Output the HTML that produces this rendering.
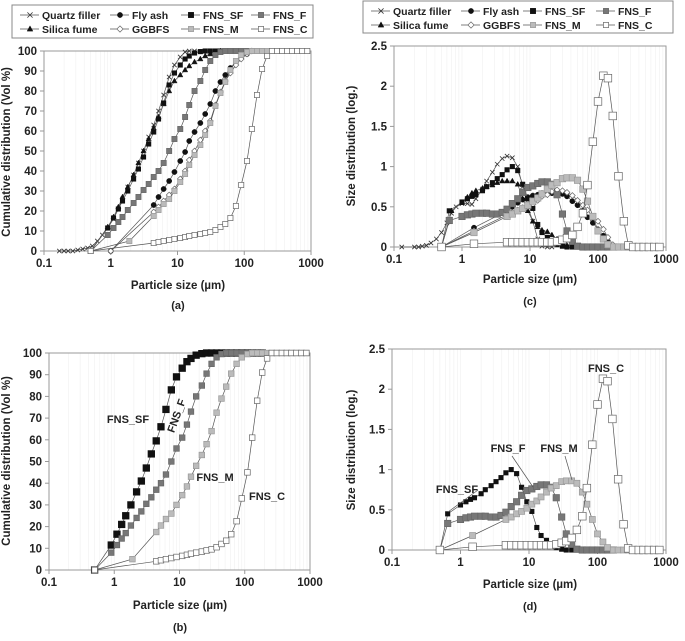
<!DOCTYPE html>
<html><head><meta charset="utf-8"><style>
html,body{margin:0;padding:0;background:#fff;}
svg text{font-family:"Liberation Sans",Arial,sans-serif;font-weight:bold;fill:#222;}
</style></head><body>
<svg id="fig" width="685" height="636" viewBox="0 0 685 636" xmlns="http://www.w3.org/2000/svg"></svg>
<script>
// ---------- DATA ----------
const qfCumX=[0.17,0.2,0.23,0.27,0.32,0.38,0.45,0.53,0.63,0.75,0.9,1.1,1.3,1.5,1.8,2.2,2.6,3.1,3.7,4.4,5.2,6.2,7.5,9,11,13,15,18];
const qfCum=[0,0,0,0,0.5,1,1.5,2.5,5,8,11.5,16,21,26,32,38,44,50,57,63,70,78,87,93,97,99.5,100,100];
const sfuCumX=[0.5,0.9,1.1,1.3,1.5,1.8,2.2,2.6,3.1,3.7,4.4,5.2,6.2,7.5,9,11,13,15,18,22,26,31,37,44];
const sfuCum=[0,12,17,22,27,32,38,44,50,56,61.5,67,73.5,80,85,88,90.5,92.5,94.5,96,97.5,98.5,99.5,100];
const faCumX=[1,4.4,5.2,6.2,7.5,9,11,13,15,18,22,26,31,37,44,52,62,75,90,110,130];
const faCum=[0,23,27,31,35,39.5,45,49.5,55,59.5,64,68.5,73.5,80,84.5,88,91.5,94.5,96.5,98.5,100];
const ggCumX=[1,4.4,5.2,6.2,7.5,9,11,13,15,18,22,26,31,37,44,52,62,75,90,110,130];
const ggCum=[0,19.5,22,25,28,31,36,40,45.5,50,55.5,60,65,73,79.5,85,89,93,96,98.5,100];
const fsfCumX=[0.5,0.9,1.1,1.3,1.5,1.8,2.2,2.6,3.1,3.7,4.4,5.2,6.2,7.5,9,11,13,15,18,22,26,31,37,44,52,62,75,90,110,130,155,185];
const fsfCum=[0,11.5,16.5,21,25,30,36,41,47,53.5,59.5,66,74,83,89,93,96,97.5,99,99.7,100,100,100,100,100,100,100,100,100,100,100,100];
const ffCumX=[0.5,0.9,1.1,1.3,1.5,1.8,2.2,2.6,3.1,3.7,4.4,5.2,6.2,7.5,9,11,13,15,18,22,26,31,37,44,52,62,75,90,110,130,155,185];
const ffCum=[0,8,11.5,14.5,17,20.5,24,27,30.5,33.5,37,40,44,50,56,61,67,73,80,85,90.5,95,98,99.5,100,100,100,100,100,100,100,100];
const fmCumX=[0.5,1.9,4.4,5.2,6.2,7.5,9,11,13,15,18,22,26,31,37,44,52,62,75,90,110,130,155,185,220,260,310,370,440,520,620,740,880];
const fmCum=[0,5,17.5,20.5,23.5,26,30,34.5,38.5,43,48,53,58,64,72.5,79,84.5,90.5,95,98,99.5,100,100,100,100,100,100,100,100,100,100,100,100];
const fcCumX=[0.5,4.4,5.2,6.2,7.5,9,11,13,15,18,22,26,31,37,44,52,62,75,90,110,130,155,185,220,260,310,370,440,520,620,740,880];
const fcCum=[0,4,4.5,5,5.5,6,6.5,7,7.5,8,8.5,9,9.5,10.5,12,13.5,16.5,22.5,33,45,61,78,91,97.5,100,100,100,100,100,100,100,100];
const qfDistX=[0.13,0.2,0.23,0.26,0.3,0.35,0.42,0.5,0.6,0.7,0.82,1,1.2,1.4,1.6,2,2.3,2.8,3.3,3.9,4.6,5.5,6.6,7.8,9.3,11,13,15,18,21];
const qfDist=[0,0,0,0.01,0.02,0.05,0.1,0.18,0.3,0.42,0.5,0.54,0.54,0.53,0.6,0.72,0.82,0.93,1.03,1.1,1.13,1.11,1.0,0.75,0.5,0.32,0.1,0.01,0,0];
const sfuDistX=[0.5,0.7,1,1.2,1.4,1.6,2,2.3,2.8,3.3,3.9,4.6,5.5,6.6,7.8,9.3,11,13,15,18,21,25,30,35,42];
const sfuDist=[0,0.45,0.55,0.62,0.67,0.7,0.73,0.75,0.77,0.8,0.82,0.82,0.82,0.78,0.6,0.45,0.32,0.25,0.21,0.19,0.15,0.1,0.05,0.02,0.01];
const faDistX=[0.5,1.5,4.6,5.5,6.6,7.8,9.3,11,13,15,18,21,25,30,35,42,50,60,70,84,100,120,140,165,200];
const faDist=[0,0.24,0.45,0.5,0.55,0.59,0.62,0.64,0.65,0.67,0.67,0.67,0.67,0.66,0.63,0.57,0.52,0.45,0.37,0.3,0.22,0.14,0.07,0.02,0];
const ggDistX=[0.5,1.5,4.6,5.5,6.6,7.8,9.3,11,13,15,18,21,25,30,35,42,50,60,70,84,100,120,140,165,200];
const ggDist=[0,0.2,0.4,0.43,0.46,0.49,0.5,0.53,0.58,0.63,0.65,0.69,0.71,0.7,0.68,0.64,0.58,0.52,0.46,0.38,0.32,0.22,0.12,0.03,0];
const fsfDistX=[0.5,0.65,1,1.2,1.4,1.6,2,2.3,2.8,3.3,3.9,4.6,5.5,6.6,7.8,9.3,11,13,15,18,21,25,30,35,42,50,60,70,84,100,120,140,170];
const fsfDist=[0,0.45,0.56,0.6,0.63,0.65,0.7,0.75,0.8,0.85,0.9,0.96,1.0,0.95,0.78,0.6,0.48,0.28,0.18,0.12,0.06,0.03,0.01,0,0,0,0,0,0,0,0,0,0];
const ffDistX=[0.5,0.65,1,1.2,1.4,1.6,2,2.3,2.8,3.3,3.9,4.6,5.5,6.6,7.8,9.3,11,13,15,18,21,25,30,35,42,50,60,70,84,100,120,140,170];
const ffDist=[0,0.33,0.38,0.4,0.41,0.42,0.42,0.42,0.41,0.41,0.43,0.47,0.54,0.6,0.68,0.74,0.76,0.79,0.81,0.81,0.78,0.65,0.41,0.2,0.07,0.01,0,0,0,0,0,0,0];
const fmDistX=[0.5,1.5,4.6,5.5,6.6,7.8,9.3,11,13,15,18,21,25,30,35,42,50,60,70,84,100,120,140,170,200,240,280,330,400,470,560,670,800];
const fmDist=[0,0.18,0.38,0.41,0.45,0.48,0.52,0.57,0.61,0.66,0.72,0.77,0.8,0.85,0.86,0.86,0.83,0.72,0.57,0.38,0.2,0.1,0.03,0,0,0,0,0,0,0,0,0,0];
const fcDistX=[0.5,1.5,4.6,5.5,6.6,7.8,9.3,11,13,15,18,21,25,30,35,42,50,60,70,84,100,120,140,165,200,240,280,330,400,470,560,670,800];
const fcDist=[0,0.04,0.06,0.06,0.06,0.06,0.06,0.06,0.06,0.06,0.06,0.06,0.07,0.09,0.11,0.15,0.25,0.42,0.77,1.31,1.81,2.13,2.1,1.63,0.88,0.32,0.02,0,0,0,0,0,0];
const xTickLabels=["0.1","1","10","100","1000"];
const cumTicks=[0,10,20,30,40,50,60,70,80,90,100];
const distTicks=["0","0.5","1","1.5","2","2.5"];
const legendNames=["Quartz filler","Fly ash","FNS_SF","FNS_F","Silica fume","GGBFS","FNS_M","FNS_C"];

// ---------- DRAWING ----------
const NS="http://www.w3.org/2000/svg";
const svg=document.getElementById('fig');
function mk(tag,attrs,parent){const e=document.createElementNS(NS,tag);for(const k in attrs)e.setAttribute(k,attrs[k]);(parent||svg).appendChild(e);return e;}
function txt(s,x,y,size,parent,anchor,rot){const t=mk('text',{x:x,y:y,'font-size':size,'text-anchor':anchor||'middle'},parent);if(rot)t.setAttribute('transform','rotate('+rot+' '+x+' '+y+')');t.textContent=s;return t;}

const styles={
 qf:{m:'x',fill:'none',stroke:'#333'},
 sfu:{m:'tri',fill:'#111',stroke:'#111'},
 fa:{m:'circle',fill:'#111',stroke:'#111'},
 gg:{m:'diamond',fill:'#fff',stroke:'#666'},
 fsf:{m:'sq',fill:'#111',stroke:'#111'},
 ff:{m:'sq',fill:'#777',stroke:'#666'},
 fm:{m:'sq',fill:'#bbb',stroke:'#999'},
 fc:{m:'sq',fill:'#fff',stroke:'#666'}
};
function marker(g,type,st,x,y,s){
 if(type==='x'){mk('path',{d:`M${x-s} ${y-s}L${x+s} ${y+s}M${x-s} ${y+s}L${x+s} ${y-s}`,stroke:st.stroke,'stroke-width':0.8,fill:'none'},g);}
 else if(type==='tri'){mk('path',{d:`M${x} ${y-s*1.2}L${x+s*1.1} ${y+s*0.8}L${x-s*1.1} ${y+s*0.8}Z`,fill:st.fill,stroke:st.stroke,'stroke-width':0.5},g);}
 else if(type==='circle'){mk('circle',{cx:x,cy:y,r:s,fill:st.fill,stroke:st.stroke,'stroke-width':0.5},g);}
 else if(type==='diamond'){mk('path',{d:`M${x} ${y-s*1.2}L${x+s*1.2} ${y}L${x} ${y+s*1.2}L${x-s*1.2} ${y}Z`,fill:st.fill,stroke:st.stroke,'stroke-width':0.7},g);}
 else {mk('rect',{x:x-s,y:y-s,width:2*s,height:2*s,fill:st.fill,stroke:st.stroke,'stroke-width':0.7},g);}
}

function makeAxes(name,x0,x1,y0,y1,ymax,ticks){
 const g=mk('g',{});
 
 
 const xs=v=>x0+(Math.log10(v)+1)/4*(x1-x0);
 const ys=v=>y0-v/ymax*(y0-y1);
 const grid=mk('g',{},g);
 
 
 for(let d=0.1;d<1000;d*=10){for(let k=1;k<10;k++){const v=d*k;if(v<=0.1||v>=1000)continue;mk('line',{x1:xs(v),x2:xs(v),y1:y1,y2:y0,stroke:'#f0f0f0','stroke-width':0.6},grid);}}
 mk('rect',{x:x0,y:y1,width:x1-x0,height:y0-y1,fill:'none',stroke:'#999','stroke-width':1},g);
 const xt=mk('g',{},g);
 
 
 xTickLabels.forEach(l=>{const v=parseFloat(l);txt(l,xs(v),y0+16,11.5,xt);mk('line',{x1:xs(v),x2:xs(v),y1:y0,y2:y0+4,stroke:'#999'},xt);});
 const yt=mk('g',{},g);
 
 
 ticks.forEach(l=>{const v=parseFloat(l);txt(String(l),x0-7,ys(v)+4,11.5,yt,'end');mk('line',{x1:x0-4,x2:x0,y1:ys(v),y2:ys(v),stroke:'#999'},yt);});
 return {g,xs,ys};
}
function series(ax,name,key,X,Y,s){
 const st=styles[key];
 const g=mk('g',{},ax.g);
 
 
 let d='';X.forEach((x,i)=>{d+=(i?'L':'M')+ax.xs(x).toFixed(1)+' '+ax.ys(Y[i]).toFixed(1);});
 mk('path',{d:d,fill:'none',stroke:'#555','stroke-width':0.7},g);
 X.forEach((x,i)=>marker(g,st.m,st,ax.xs(x),ax.ys(Y[i]),s));
}
function legend(name,bx,by,bw,bh,cols,ty1,ty2){
 const g=mk('g',{});
 
 
 mk('rect',{x:bx,y:by,width:bw,height:bh,fill:'#fff',stroke:'#888','stroke-width':1},g);
 const keys=['qf','fa','fsf','ff','sfu','gg','fm','fc'];
 keys.forEach((k,i)=>{
  const e=mk('g',{},g);
  
  
  const cx=cols[i%4],y=i<4?ty1:ty2;
  mk('line',{x1:cx-22,x2:cx-3,y1:y-4,y2:y-4,stroke:'#555','stroke-width':0.8},e);
  marker(e,styles[k].m,styles[k],cx-12,y-4,2.6);
  txt(legendNames[i],cx,y,10.5,e,'start');
 });
}
function axisTitles(nameY,ytitle,yx,yy,xx,xy,cap,cy){
 const t1=txt(ytitle,yx,yy,11.5,null,'middle',-90);
 
 
 const t2=txt('Particle size (µm)',xx,xy,11.5);
 
 
 const t3=txt(cap,xx,cy,11);
 
 
}

// Panel (a)
legend('legend-a',12,5,301,33,[42,132,203,273],19,33);
const A=makeAxes('panel-a-chart',44,311,251,51,100,cumTicks);
series(A,'series-quartz-filler','qf',qfCumX,qfCum,2.2);
series(A,'series-silica-fume','sfu',sfuCumX,sfuCum,2.4);
series(A,'series-fly-ash','fa',faCumX,faCum,2.6);
series(A,'series-ggbfs','gg',ggCumX,ggCum,2.4);
series(A,'series-fns-sf','fsf',fsfCumX,fsfCum,2.2);
series(A,'series-fns-f','ff',ffCumX,ffCum,2.6);
series(A,'series-fns-m','fm',fmCumX,fmCum,2.6);
series(A,'series-fns-c','fc',fcCumX,fcCum,2.6);
axisTitles('y-axis-title-a','Cumulative distribution (Vol %)',10,152,178,289,'(a)',309);

// Panel (c)
legend('legend-c',363,1,310,32,[393,483,545,618],15,29);
const C=makeAxes('panel-c-chart',394,666,247,46,2.5,distTicks);
series(C,'series-quartz-filler','qf',qfDistX,qfDist,2.2);
series(C,'series-silica-fume','sfu',sfuDistX,sfuDist,2.4);
series(C,'series-fly-ash','fa',faDistX,faDist,2.6);
series(C,'series-ggbfs','gg',ggDistX,ggDist,2.4);
series(C,'series-fns-sf','fsf',fsfDistX,fsfDist,2.2);
series(C,'series-fns-f','ff',ffDistX,ffDist,3.2);
series(C,'series-fns-m','fm',fmDistX,fmDist,3.2);
series(C,'series-fns-c','fc',fcDistX,fcDist,3.8);
axisTitles('y-axis-title-c','Size distribution (log.)',355,146,530,283,'(c)',305);

// Panel (b)
const B=makeAxes('panel-b-chart',49,310,570,353,100,cumTicks);
series(B,'series-fns-sf','fsf',fsfCumX,fsfCum,3.3);
series(B,'series-fns-f','ff',ffCumX,ffCum,2.8);
series(B,'series-fns-m','fm',fmCumX,fmCum,2.8);
series(B,'series-fns-c','fc',fcCumX,fcCum,2.8);
axisTitles('y-axis-title-b','Cumulative distribution (Vol %)',10,461,180,609,'(b)',631);
[['FNS_SF',128,423,0],['FNS_F',180,417,-70],['FNS_M',215,481,0],['FNS_C',267,500,0]].forEach(a=>{const t=txt(a[0],a[1],a[2],11,null,'middle',a[3]);});

// Panel (d)
const D=makeAxes('panel-d-chart',392,666,550,349,2.5,distTicks);
series(D,'series-fns-sf','fsf',fsfDistX,fsfDist,2.2);
series(D,'series-fns-f','ff',ffDistX,ffDist,3.2);
series(D,'series-fns-m','fm',fmDistX,fmDist,3.0);
series(D,'series-fns-c','fc',fcDistX,fcDist,3.8);
axisTitles('y-axis-title-d','Size distribution (log.)',355,450,530,588,'(d)',610);
[['FNS_SF',457,493],['FNS_F',508,452],['FNS_M',559,452],['FNS_C',606,372]].forEach(a=>{const t=txt(a[0],a[1],a[2],11);});
[[478,490,448,512],[512,456,533,487],[565,456,572,480]].forEach(l=>{const e=mk('line',{x1:l[0],y1:l[1],x2:l[2],y2:l[3],stroke:'#555','stroke-width':0.7});});
</script>
</body></html>
